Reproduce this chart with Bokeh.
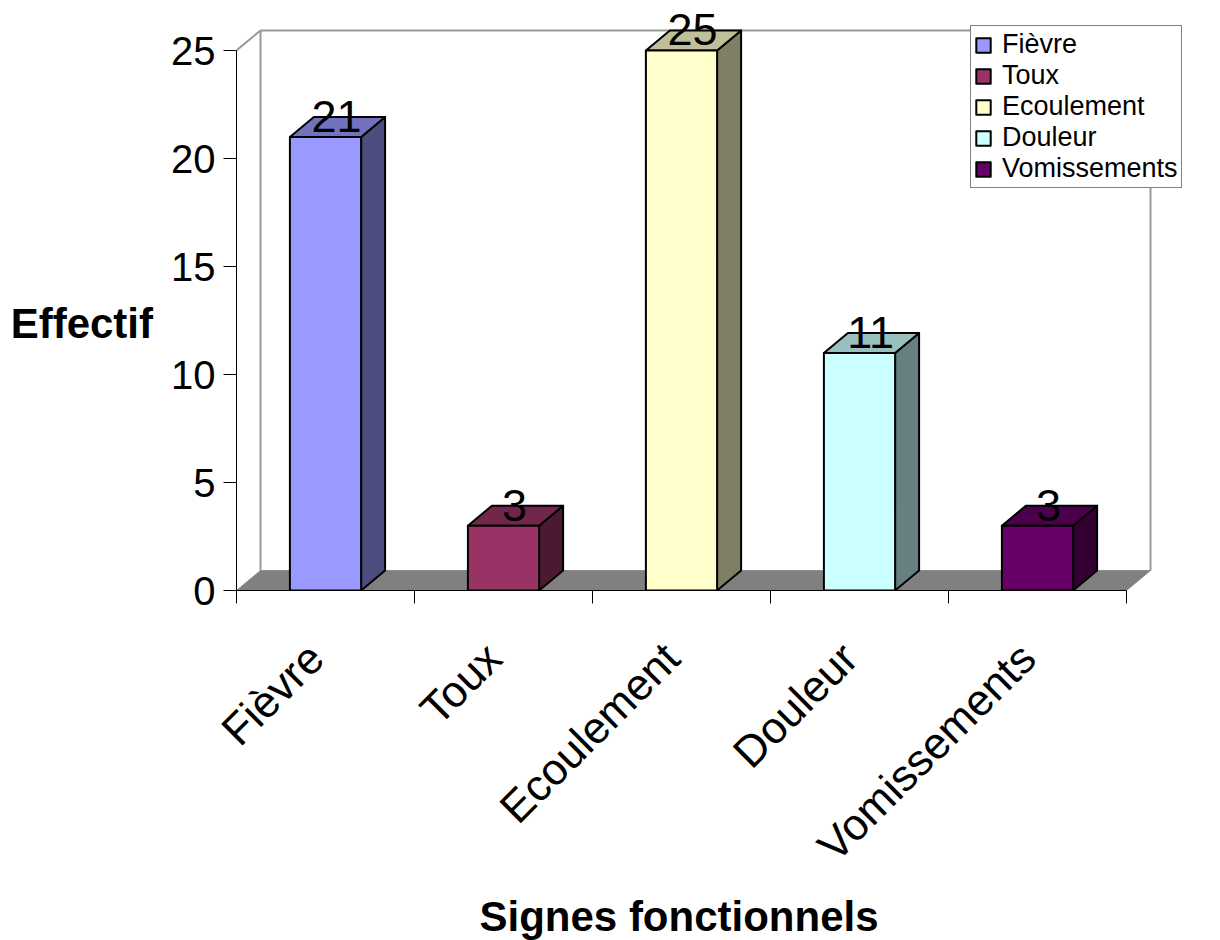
from math import pi
from bokeh.plotting import figure
from bokeh.models import ColumnDataSource, FixedTicker, Legend, LegendItem, Range1d, Title
from bokeh.core.properties import value
from bokeh.embed import file_html
from bokeh.resources import INLINE

# ---- data ----
categories = ["Fièvre", "Toux", "Ecoulement", "Douleur", "Vomissements"]
effectifs = [21, 3, 25, 11, 3]
y_ticks = [0, 5, 10, 15, 20, 25]
y_title = "Effectif"
x_title = "Signes fonctionnels"

# ---- style ----
front_colors = ["#9999FF", "#993366", "#FFFFCC", "#CCFFFF", "#660066"]
FONT = "Liberation Sans"


def shade(hx, f):
    hx = hx.lstrip("#")
    r, g, b = (int(hx[i:i + 2], 16) for i in (0, 2, 4))
    return "#%02x%02x%02x" % (int(r * f), int(g * f), int(b * f))


side_colors = [shade(c, 0.5) for c in front_colors]
top_colors = [shade(c, 0.75) for c in front_colors]

W, H = 1220, 940
B_LEFT, B_RIGHT, B_TOP, B_BOTTOM = 236, 14, 0, 350
frame_w = W - B_LEFT - B_RIGHT
frame_h = H - B_TOP - B_BOTTOM
CAT_PX = 178.0
UNIT_PX = 21.6
x_end = frame_w / CAT_PX
y_end = frame_h / UNIT_PX
DX = 24 / CAT_PX
DY = 20 / UNIT_PX
HW = 0.2

n = len(categories)
ymax = y_ticks[-1]
centers = [i + 0.5 for i in range(n)]

p = figure(width=W, height=H, output_backend="svg", toolbar_location=None,
           title=None, x_range=Range1d(0, x_end), y_range=Range1d(0, y_end),
           min_border_left=B_LEFT, min_border_right=B_RIGHT,
           min_border_top=B_TOP, min_border_bottom=B_BOTTOM)
p.outline_line_color = None
p.xgrid.visible = False
p.ygrid.visible = False
p.background_fill_color = "white"
p.border_fill_color = "white"

# back walls
p.line(x=[0, DX], y=[ymax, ymax + DY], line_color="#999999", line_width=2)
p.line(x=[DX, DX, n + DX, n + DX], y=[DY, ymax + DY, ymax + DY, DY],
       line_color="#999999", line_width=2)
# floor
p.patch(x=[0, n, n + DX, DX], y=[0, 0, DY, DY], fill_color="#808080",
        line_color="#8c8c8c", line_width=1)

# bars: side faces, top faces, front faces
side_xs, side_ys, top_xs, top_ys = [], [], [], []
for c, v in zip(centers, effectifs):
    side_xs.append([c + HW, c + HW + DX, c + HW + DX, c + HW])
    side_ys.append([0, DY, v + DY, v])
    top_xs.append([c - HW, c + HW, c + HW + DX, c - HW + DX])
    top_ys.append([v, v, v + DY, v + DY])
p.patches(xs=side_xs, ys=side_ys, fill_color=side_colors, line_color="black",
          line_width=2, line_join="round")
p.patches(xs=top_xs, ys=top_ys, fill_color=top_colors, line_color="black",
          line_width=2, line_join="round")
front = ColumnDataSource(dict(
    left=[c - HW for c in centers], right=[c + HW for c in centers],
    top=effectifs, bottom=[0] * n, color=front_colors, cat=categories))
fr = p.quad(left="left", right="right", top="top", bottom="bottom", source=front,
            fill_color="color", line_color="black", line_width=2, line_join="round")

# value labels
lab = ColumnDataSource(dict(x=[c + DX / 2 - 0.005 for c in centers],
                            y=[v + 0.95 for v in effectifs],
                            t=[str(v) for v in effectifs]))
p.text(x="x", y="y", text="t", source=lab, text_font=value(FONT),
       text_font_size="45px", text_align="center", text_baseline="alphabetic",
       text_color="black")

# y axis
ya = p.yaxis[0]
ya.ticker = FixedTicker(ticks=y_ticks, minor_ticks=[])
ya.bounds = (0, ymax)
ya.axis_line_color = "black"
ya.axis_line_width = 1
ya.major_tick_out = 13
ya.major_tick_in = 0
ya.major_tick_line_color = "black"
ya.minor_tick_line_color = None
ya.major_label_text_font = FONT
ya.major_label_text_font_size = "40px"
ya.major_label_text_color = "black"
ya.major_label_standoff = 8
# leading blank line lowers the label to the middle of the 0-25 axis span
ya.axis_label = "\n" + y_title
ya.axis_label_text_font = FONT
ya.axis_label_text_font_size = "42px"
ya.axis_label_text_font_style = "bold"
ya.axis_label_text_color = "black"
ya.axis_label_standoff = 15
if "axis_label_orientation" in ya.properties():
    ya.axis_label_orientation = "horizontal"

# x axis
label_shift = 10 / CAT_PX
label_pos = [c - label_shift for c in centers]
xa = p.xaxis[0]
xa.ticker = FixedTicker(ticks=label_pos, minor_ticks=list(range(n + 1)))
xa.major_label_overrides = {c: cat for c, cat in zip(label_pos, categories)}
xa.bounds = (0, n)
xa.axis_line_color = "black"
xa.axis_line_width = 1
xa.major_tick_out = 0
xa.major_tick_in = 0
xa.minor_tick_out = 13
xa.minor_tick_in = 0
xa.minor_tick_line_color = "black"
xa.major_label_orientation = pi / 4
xa.major_label_text_font = FONT
xa.major_label_text_font_size = "44px"
xa.major_label_text_color = "black"
xa.major_label_standoff = 47

# x title as a left-aligned title below the axis, offset to centre on the axis
xt = Title(text=x_title, align="left", offset=243, text_font=FONT,
           text_font_size="42px", text_font_style="bold", text_color="black")
if "standoff" in xt.properties():
    xt.standoff = 0
p.add_layout(xt, "below")

# legend
legend = Legend(items=[LegendItem(label=cat, renderers=[fr], index=i)
                       for i, cat in enumerate(categories)],
                location=(970 - B_LEFT, 402), orientation="vertical")
legend.border_line_color = "black"
legend.border_line_width = 1
legend.background_fill_color = "white"
legend.background_fill_alpha = 1
legend.padding = 3
legend.margin = 0
legend.spacing = 0
legend.label_text_font = FONT
legend.label_text_font_size = "27px"
legend.label_text_color = "black"
legend.label_height = 29
legend.glyph_height = 18
legend.glyph_width = 18
legend.label_standoff = 10
p.add_layout(legend)

open("out.html", "w").write(file_html(p, INLINE))
